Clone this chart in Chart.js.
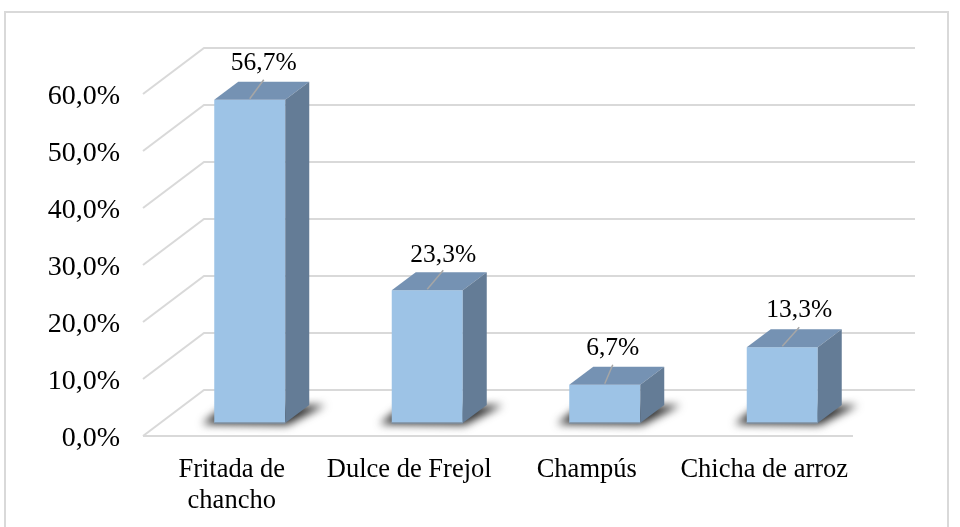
<!DOCTYPE html>
<html><head><meta charset="utf-8">
<style>html,body{margin:0;padding:0;background:#fff}canvas{display:block}</style>
<script src="https://cdn.jsdelivr.net/npm/chart.js@4"></script></head>
<body><canvas id="c" width="960" height="527"></canvas>
<script>
const categories = [["Fritada de","chancho"],"Dulce de Frejol","Champús","Chicha de arroz"];
const values = [56.7,23.3,6.7,13.3];
const dataLabels = ["56,7%","23,3%","6,7%","13,3%"];
const SERIF = '"Liberation Serif","Times New Roman",serif';
const DX=24, DY=18, SHIFTX=18, SHIFTY=-16, BACKX=61, BACKY=46, GRIDY=-3;
const labelNudgeX=[14,16,8,17], labelNudgeY=[-37,-35,-37,-37];
const plugin3d = {
  id:'p3d',
  beforeDraw(ch){
    const c=ch.ctx; c.save();
    c.fillStyle='#fff'; c.fillRect(0,0,960,527);
    c.strokeStyle='#d9d9d9'; c.lineWidth=2;
    c.beginPath(); c.moveTo(5,527); c.lineTo(5,12); c.lineTo(948,12); c.lineTo(948,527); c.stroke();
    c.restore();
  },
  beforeDatasetsDraw(ch){
    const c=ch.ctx, a=ch.chartArea, y=ch.scales.y;
    c.save(); c.strokeStyle='#d9d9d9'; c.lineWidth=2;
    y.ticks.forEach(t=>{
      const p=y.getPixelForValue(t.value)+GRIDY;
      c.beginPath(); c.moveTo(a.left,p); c.lineTo(a.left+BACKX,p-BACKY); c.lineTo(a.right+BACKX+1,p-BACKY); c.stroke();
    });
    c.beginPath(); c.moveTo(a.left,a.bottom+GRIDY); c.lineTo(a.right,a.bottom+GRIDY); c.stroke();
    c.restore();
    const m=ch.getDatasetMeta(0);
    c.save(); c.filter='blur(4px)'; c.fillStyle='#2e2e2e';
    m.data.forEach(b=>{
      const l=b.x-b.width/2+SHIFTX, r=b.x+b.width/2+SHIFTX, yb=b.base+SHIFTY;
      c.beginPath(); c.moveTo(l-12,yb+1); c.lineTo(l+8,yb-15); c.lineTo(r+40,yb-18); c.lineTo(r+2,yb+2); c.closePath(); c.fill();
    });
    c.restore();
    c.save(); c.translate(SHIFTX,SHIFTY);
  },
  afterDatasetsDraw(ch){
    const c=ch.ctx; c.restore();
    const m=ch.getDatasetMeta(0);
    c.save();
    m.data.forEach((b,i)=>{
      const l=b.x-b.width/2+SHIFTX, r=b.x+b.width/2+SHIFTX, t=b.y+SHIFTY, yb=b.base+SHIFTY;
      c.fillStyle='#7592b3';
      c.beginPath(); c.moveTo(l,t); c.lineTo(l+DX,t-DY); c.lineTo(r+DX,t-DY); c.lineTo(r,t); c.closePath(); c.fill();
      c.fillStyle='#647c96';
      c.beginPath(); c.moveTo(r,t); c.lineTo(r+DX,t-DY); c.lineTo(r+DX,yb-DY); c.lineTo(r,yb); c.closePath(); c.fill();
      c.strokeStyle='#7f8f9f'; c.lineWidth=1.5;
      c.beginPath(); c.moveTo(l,yb); c.lineTo(r,yb); c.stroke();
      const mx=(l+r)/2;
      c.strokeStyle='#a6a6a6'; c.lineWidth=1.5;
      c.beginPath(); c.moveTo(mx,t-1); c.lineTo(mx+labelNudgeX[i],t-20); c.stroke();
      c.fillStyle='#000'; c.font='25.5px '+SERIF; c.textAlign='center'; c.textBaseline='middle';
      c.fillText(dataLabels[i],mx+labelNudgeX[i],t+labelNudgeY[i]);
    });
    c.restore();
  }
};
new Chart(document.getElementById('c'),{
  type:'bar',
  data:{labels:categories,datasets:[{data:values,backgroundColor:'#9dc3e6',borderWidth:0,barPercentage:0.4,categoryPercentage:1}]},
  options:{
    responsive:false,animation:false,
    layout:{padding:{top:97,right:107,left:0,bottom:0}},
    plugins:{legend:{display:false},tooltip:{enabled:false},title:{display:false}},
    scales:{
      x:{grid:{display:false},border:{display:false},
         afterFit(s){s.height=88;},
         ticks:{color:'#000',padding:8,maxRotation:0,autoSkip:false,font:{family:SERIF,size:26.5,lineHeight:1.15}}},
      y:{min:0,max:60,grid:{display:false,drawTicks:false},border:{display:false},
         afterFit(s){s.width=143;},
         ticks:{color:'#000',stepSize:10,padding:23,font:{family:SERIF,size:28},
           callback:v=>v.toFixed(1).replace('.',',')+'%'}}
    }
  },
  plugins:[plugin3d]
});
</script></body></html>
